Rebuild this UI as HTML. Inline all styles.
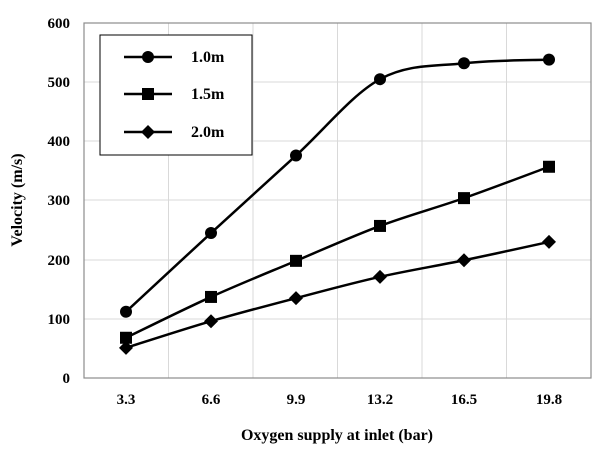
<!DOCTYPE html>
<html><head><style>
html,body{margin:0;padding:0;background:#fff;}
svg text{font-family:"Liberation Serif",serif;font-weight:bold;fill:#000;}
</style></head><body>
<svg id="s" width="608" height="454" xmlns="http://www.w3.org/2000/svg">
<g stroke="#d9d9d9" stroke-width="1">
<line x1="84" y1="82" x2="591" y2="82"/><line x1="84" y1="141" x2="591" y2="141"/>
<line x1="84" y1="200" x2="591" y2="200"/><line x1="84" y1="260" x2="591" y2="260"/>
<line x1="84" y1="319" x2="591" y2="319"/>
<line x1="168.5" y1="23" x2="168.5" y2="378"/><line x1="253" y1="23" x2="253" y2="378"/>
<line x1="337.5" y1="23" x2="337.5" y2="378"/><line x1="422" y1="23" x2="422" y2="378"/>
<line x1="506.5" y1="23" x2="506.5" y2="378"/>
</g>
<rect x="84" y="23" width="507" height="355" fill="none" stroke="#8c8c8c" stroke-width="1.2"/>
<g font-size="15" text-anchor="end">
<text x="70" y="28">600</text><text x="70" y="87">500</text><text x="70" y="146">400</text>
<text x="70" y="205">300</text><text x="70" y="265">200</text><text x="70" y="324">100</text><text x="70" y="383">0</text>
</g>
<g font-size="15" text-anchor="middle">
<text x="126" y="404">3.3</text><text x="211" y="404">6.6</text><text x="296" y="404">9.9</text>
<text x="380" y="404">13.2</text><text x="464" y="404">16.5</text><text x="549" y="404">19.8</text>
</g>
<text x="337" y="440" font-size="16" text-anchor="middle">Oxygen supply  at inlet (bar)</text>
<text transform="translate(22,200) rotate(-90)" font-size="16" text-anchor="middle">Velocity (m/s)</text>
<g id="series"></g>
<rect x="100" y="35" width="152" height="120" fill="#fff" stroke="#000" stroke-width="1"/>
<g stroke="#000" stroke-width="2.5">
<line x1="124" y1="57" x2="172" y2="57"/><line x1="124" y1="94" x2="172" y2="94"/><line x1="124" y1="132" x2="172" y2="132"/>
</g>
<circle cx="148" cy="57" r="6" fill="#000"/>
<rect x="142" y="88" width="12" height="12" fill="#000"/>
<polygon points="148,125 155,132 148,139 141,132" fill="#000"/>
<g font-size="16"><text x="191" y="62">1.0m</text><text x="191" y="99">1.5m</text><text x="191" y="137">2.0m</text></g>
</svg>
<script>
var xs=[126,211,296,380,464,549];
var data=[[112,245,376,505,532,538],[68,137,198,257,304,357],[51,96,135,171,199,230]];
var g=document.getElementById('series');var ns='http://www.w3.org/2000/svg';
data.forEach(function(d,k){
 var p=d.map(function(v,i){return [xs[i],378-v*0.5917];});
 var s='M'+p[0][0]+','+p[0][1];
 for(var i=0;i<p.length-1;i++){
  var p0=p[i-1]||p[i],p1=p[i],p2=p[i+1],p3=p[i+2]||p2,t=6;
  s+=' C'+(p1[0]+(p2[0]-p0[0])/t)+','+(p1[1]+(p2[1]-p0[1])/t)+' '+(p2[0]-(p3[0]-p1[0])/t)+','+(p2[1]-(p3[1]-p1[1])/t)+' '+p2[0]+','+p2[1];
 }
 var e=document.createElementNS(ns,'path');e.setAttribute('d',s);e.setAttribute('fill','none');e.setAttribute('stroke','#000');e.setAttribute('stroke-width','2.5');g.appendChild(e);
 p.forEach(function(q){var m;
  if(k==0){m=document.createElementNS(ns,'circle');m.setAttribute('cx',q[0]);m.setAttribute('cy',q[1]);m.setAttribute('r',6);}
  else if(k==1){m=document.createElementNS(ns,'rect');m.setAttribute('x',q[0]-6);m.setAttribute('y',q[1]-6);m.setAttribute('width',12);m.setAttribute('height',12);}
  else{m=document.createElementNS(ns,'polygon');m.setAttribute('points',q[0]+','+(q[1]-7)+' '+(q[0]+7)+','+q[1]+' '+q[0]+','+(q[1]+7)+' '+(q[0]-7)+','+q[1]);}
  m.setAttribute('fill','#000');g.appendChild(m);});
});
</script>
</body></html>
